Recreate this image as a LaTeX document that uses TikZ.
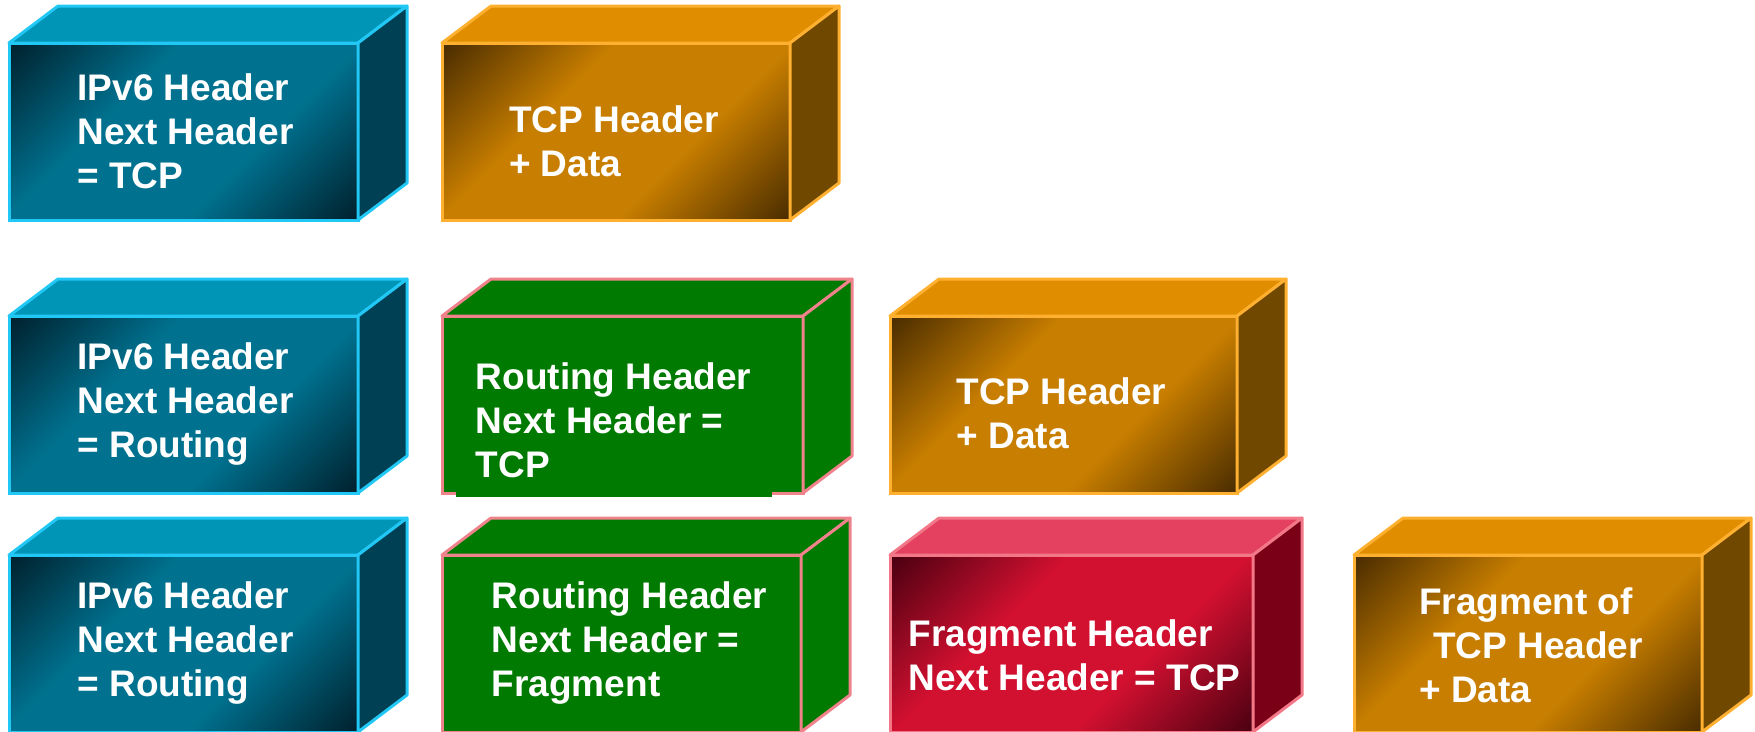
\documentclass[tikz,border=0pt]{standalone}
\usepackage{fontspec}
\setmainfont{Liberation Sans}

\definecolor{bluetop}{RGB}{0,148,183}
\definecolor{blueside}{RGB}{0,64,84}
\definecolor{bluedark}{RGB}{0,30,42}
\definecolor{bluelight}{RGB}{0,114,144}
\definecolor{blueedge}{RGB}{34,200,245}
\definecolor{orangetop}{RGB}{224,142,0}
\definecolor{orangeside}{RGB}{112,72,0}
\definecolor{orangedark}{RGB}{70,42,0}
\definecolor{orangelight}{RGB}{200,126,0}
\definecolor{orangeedge}{RGB}{255,176,48}
\definecolor{greentop}{RGB}{0,122,0}
\definecolor{greenside}{RGB}{0,122,0}
\definecolor{greendark}{RGB}{0,122,0}
\definecolor{greenlight}{RGB}{0,122,0}
\definecolor{greenedge}{RGB}{240,130,140}
\definecolor{redtop}{RGB}{228,64,96}
\definecolor{redside}{RGB}{122,0,24}
\definecolor{reddark}{RGB}{70,0,16}
\definecolor{redlight}{RGB}{210,16,48}
\definecolor{rededge}{RGB}{242,120,136}

\colorlet{fdark}{bluedark}
\colorlet{flight}{bluelight}
\pgfdeclarehorizontalshading[fdark,flight]{frontshade}{100bp}{%
  color(0bp)=(fdark); color(14bp)=(fdark); color(38bp)=(flight);
  color(62bp)=(flight); color(86bp)=(fdark); color(100bp)=(fdark)}

\tikzset{
  front/.style={rectangle, anchor=north west, minimum height=177pt,
    outer sep=0pt, inner sep=0pt, line width=3pt},
  face/.style={line width=3pt, line join=round},
  hdrtext/.style={align=left, text=white, inner sep=0pt,
    font=\fontsize{37}{44}\selectfont\bfseries}
}

% name, x, y, width, colour
\newcommand{\pktbox}[5]{%
  \colorlet{fdark}{#5dark}\colorlet{flight}{#5light}%
  \path (#2,#3) node[front, minimum width=#4pt, shading=frontshade,
    shading angle=-45, draw=#5edge] (#1) {};
  \draw[face, draw=#5edge, fill=#5top] (#1.north west) -- ++(49,-37)
    -- ++(#4,0) -- (#1.north east) -- cycle;
  \draw[face, draw=#5edge, fill=#5side] (#1.north east) -- ++(49,-37)
    -- ++(0,177) -- (#1.south east) -- cycle;
}

\begin{document}
\begin{tikzpicture}[x=1pt, y=-1pt]
  \useasboundingbox (0,0) rectangle (1755,731);
  % plain IPv6 packet
  \pktbox{ipa}{9}{43}{349}{blue}
  \pktbox{tcpa}{442}{43}{348}{orange}
  % with routing header
  \pktbox{ipb}{9}{316}{349}{blue}
  \pktbox{rtb}{442}{316}{361}{green}
  \fill[greentop] (456,490) rectangle (772,497);
  \pktbox{tcpb}{890}{316}{347}{orange}
  % with routing and fragment header
  \pktbox{ipc}{9}{555}{349}{blue}
  \pktbox{rtc}{442}{555}{359}{green}
  \pktbox{fragc}{890}{555}{363}{red}
  \pktbox{tcpc}{1354}{555}{348}{orange}

  \path (ipa.center)   node[hdrtext, xshift=2pt] (ipatxt) {IPv6 Header\\Next Header\\= TCP};
  \path (tcpa.center)  node[hdrtext, xshift=-2pt, yshift=-10pt] (tcpatxt) {TCP Header\\+ Data};
  \path (ipb.center)   node[hdrtext, xshift=2pt] (ipbtxt) {IPv6 Header\\Next Header\\= Routing};
  \path (rtb.center)   node[hdrtext, xshift=-9pt, yshift=-16pt] (rtbtxt) {Routing Header\\Next Header =\\TCP};
  \path (tcpb.center)  node[hdrtext, xshift=-2pt, yshift=-9pt] (tcpbtxt) {TCP Header\\+ Data};
  \path (ipc.center)   node[hdrtext, xshift=2pt] (ipctxt) {IPv6 Header\\Next Header\\= Routing};
  \path (rtc.center)   node[hdrtext, xshift=8pt] (rtctxt) {Routing Header\\Next Header =\\Fragment};
  \path (fragc.center) node[hdrtext, xshift=3pt, yshift=-12pt] (fragctxt) {Fragment Header\\Next Header = TCP};
  \path (tcpc.center)  node[hdrtext, xshift=3pt, yshift=-2pt] (tcpctxt) {Fragment of\\\hspace*{14pt}TCP Header\\+ Data};
\end{tikzpicture}
\end{document}
